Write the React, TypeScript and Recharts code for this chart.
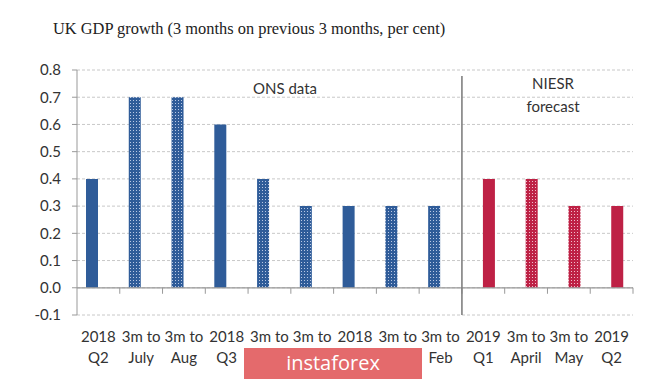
import React from "react"
import { BarChart, Bar, XAxis, YAxis, CartesianGrid, ReferenceLine, Cell } from "recharts"

// category labels (two lines each)
const line1 = ["2018", "3m to", "3m to", "2018", "3m to", "3m to", "2018", "3m to", "3m to", "2019", "3m to", "3m to", "2019"]
const line2 = ["Q2", "July", "Aug", "Q3", "Oct", "Nov", "Q4", "Jan", "Feb", "Q1", "April", "May", "Q2"]

// ONS data (outturn) and NIESR forecast, per cent
const onsValues = [0.4, 0.7, 0.7, 0.6, 0.4, 0.3, 0.3, 0.3, 0.3, null, null, null, null]
const niesrValues = [null, null, null, null, null, null, null, null, null, 0.4, 0.4, 0.3, 0.3]

// quarterly figures are solid, rolling 3-month figures are dotted
const isQuarter = line1.map((l) => l !== "3m to")

const yTicks = [-0.1, 0, 0.1, 0.2, 0.3, 0.4, 0.5, 0.6, 0.7, 0.8]

const BLUE = "#2f5c99"
const RED = "#be2145"
const FONT = "Lato, 'Noto Sans', sans-serif"

const data = line1.map((l, i) => ({
  key: `${l} ${line2[i]}`,
  ons: onsValues[i],
  niesr: niesrValues[i],
}))

function XTick(props: any) {
  const { x, y, payload } = props
  const i = payload.index
  return (
    <text x={x} y={y} textAnchor="middle" fontFamily={FONT} fontSize={15} fill="#333">
      <tspan x={x} dy={19}>{line1[i]}</tspan>
      <tspan x={x} dy={21}>{line2[i]}</tspan>
    </text>
  )
}

export default function App() {
  return (
    <div style={{ position: "fixed", left: 0, top: 0, width: 665, height: 379, background: "#fff", overflow: "hidden" }}>
      <div
        style={{
          position: "absolute",
          left: 53,
          top: 19,
          fontFamily: "'Liberation Serif', serif",
          fontSize: 16.4,
          color: "#222",
          whiteSpace: "nowrap",
        }}
      >
        UK GDP growth (3 months on previous 3 months, per cent)
      </div>
      <BarChart
        width={665}
        height={379}
        data={data}
        margin={{ top: 70, right: 32, bottom: 14, left: 17 }}
        barGap={0}
        barSize={12}
      >
        <defs>
          <pattern id="dotBlue" width="3" height="3" patternUnits="userSpaceOnUse">
            <rect width="3" height="3" fill={BLUE} />
            <rect x="1" y="1" width="1" height="1" fill="#b9c8e4" />
          </pattern>
          <pattern id="dotRed" width="3" height="3" patternUnits="userSpaceOnUse">
            <rect width="3" height="3" fill={RED} />
            <rect x="1" y="1" width="1" height="1" fill="#efbccb" />
          </pattern>
        </defs>
        <CartesianGrid vertical={false} stroke="#c8c8c8" strokeDasharray="3 2" />
        <XAxis
          dataKey="key"
          interval={0}
          axisLine={false}
          tickLine={false}
          height={50}
          tick={<XTick />}
        />
        <YAxis
          domain={[-0.1, 0.8]}
          ticks={yTicks}
          tickFormatter={(v: number) => v.toFixed(1)}
          axisLine={{ stroke: "#999" }}
          tickLine={{ stroke: "#999" }}
          tickSize={5}
          tickMargin={11}
          width={60}
          tick={{ fontFamily: FONT, fontSize: 15, fill: "#333" }}
        />
        <ReferenceLine y={0} stroke="#999" strokeWidth={1.2} />
        {data.slice(1).map((d) => (
          <ReferenceLine
            key={"t" + d.key}
            segment={[{ x: d.key, y: 0 }, { x: d.key, y: -0.022 }]}
            position="start"
            stroke="#999"
          />
        ))}
        <ReferenceLine
          segment={[{ x: data[12].key, y: 0 }, { x: data[12].key, y: -0.022 }]}
          position="end"
          stroke="#999"
        />
        <ReferenceLine
          segment={[{ x: data[8].key, y: 0.778 }, { x: data[8].key, y: -0.1 }]}
          position="end"
          stroke="#808080"
          strokeWidth={1.6}
        />
        <Bar dataKey="ons" isAnimationActive={false}>
          {data.map((d, i) => (
            <Cell key={d.key} fill={isQuarter[i] ? BLUE : "url(#dotBlue)"} />
          ))}
        </Bar>
        <Bar dataKey="niesr" isAnimationActive={false}>
          {data.map((d, i) => (
            <Cell key={d.key} fill={isQuarter[i] ? RED : "url(#dotRed)"} />
          ))}
        </Bar>
      </BarChart>
      <div style={{ position: "absolute", left: 245, top: 79, width: 80, textAlign: "center", fontFamily: FONT, fontSize: 15, color: "#333" }}>
        ONS data
      </div>
      <div
        style={{
          position: "absolute",
          left: 513,
          top: 72,
          width: 80,
          textAlign: "center",
          fontFamily: FONT,
          fontSize: 15,
          lineHeight: "23px",
          color: "#333",
        }}
      >
        NIESR
        <br />
        forecast
      </div>
      <div
        style={{
          position: "absolute",
          left: 244,
          top: 348,
          width: 178,
          height: 31,
          background: "#e46a6c",
          color: "#fff",
          fontFamily: "'Open Sans', sans-serif",
          fontSize: 20,
          lineHeight: "30px",
          textAlign: "center",
        }}
      >
        instaforex
      </div>
    </div>
  )
}
